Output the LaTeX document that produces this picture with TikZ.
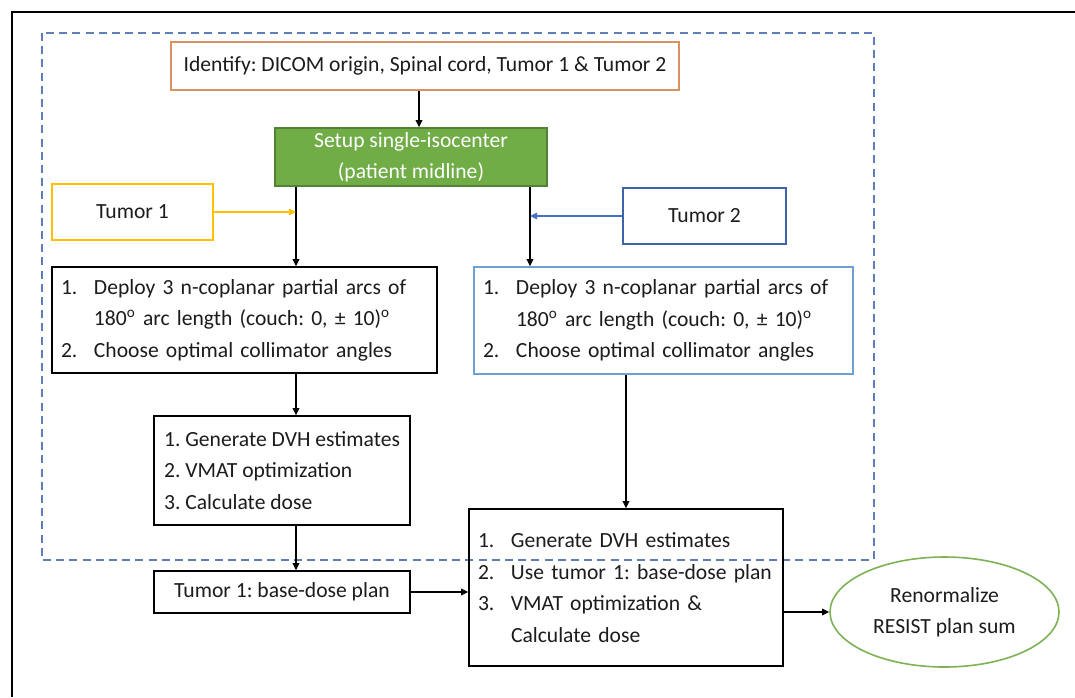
\documentclass[tikz,border=0pt]{standalone}
\usepackage{fontspec}
\setmainfont{Carlito}
\usetikzlibrary{arrows.meta,shapes.geometric}

\definecolor{txt}{RGB}{28,28,28}
\definecolor{idorange}{RGB}{218,145,95}
\definecolor{setupgreen}{RGB}{112,173,71}
\definecolor{setupedge}{RGB}{84,130,53}
\definecolor{tumyellow}{RGB}{255,192,0}
\definecolor{tumblue}{RGB}{60,100,170}
\definecolor{arrowblue}{RGB}{68,114,196}
\definecolor{lightblue}{RGB}{110,160,210}
\definecolor{dashblue}{RGB}{95,125,185}
\definecolor{ovalgreen}{RGB}{125,178,85}

\newcommand{\lnum}[1]{\makebox[16.5pt][l]{#1}}
\newcommand{\lind}{\hspace*{16.5pt}}

\tikzset{
    every node/.style={font=\fontsize{10.8}{15.75}\selectfont\frenchspacing, text=txt},
    box/.style={draw, line width=0.8pt, inner sep=0pt},
    listbox/.style={draw, line width=0.8pt, align=left, inner xsep=4.5pt, inner ysep=0pt},
    >={Triangle[length=3.6pt,width=3.4pt]}
}

\begin{document}
\begin{tikzpicture}[x=0.5pt,y=-0.5pt]
            \useasboundingbox (0,0) rectangle (1075,697);
            \fill[white] (0,0) rectangle (1075,697);
            \draw[line width=1.4pt] (12,697) -- (12,12) -- (1075,12);
            \draw[dashblue, line width=0.75pt, dash pattern=on 4pt off 2.6pt] (42,33) rectangle (874,560);

            \node[box, draw=idorange, minimum width=254pt, minimum height=24pt] (Identify) at (425,66) {Identify: DICOM origin, Spinal cord, Tumor 1 \& Tumor 2};
            \node[box, draw=setupedge, fill=setupgreen, text=white, align=center, minimum width=136pt, minimum height=29pt] (Setup) at (411,157) {Setup single-isocenter\\(patient midline)};
            \node[box, draw=tumyellow, minimum width=80.5pt, minimum height=28pt] (TumorA) at (132.5,212) {Tumor 1};
            \node[box, draw=tumblue, minimum width=81.5pt, minimum height=28pt] (TumorB) at (704.5,216) {Tumor 2};

            \node[listbox, text width=183.5pt, minimum height=53pt] (ArcsA) at (244.5,320) {\lnum{1.}Deploy 3 n-coplanar partial arcs of\\
                \lind 180\textsuperscript{o} arc length (couch: 0, ± 10)\textsuperscript{o}\\
                \lnum{2.}Choose optimal collimator angles};
            \node[listbox, draw=lightblue, text width=180.5pt, minimum height=53.5pt] (ArcsB) at (663.5,320.5) {\lnum{1.}Deploy 3 n-coplanar partial arcs of\\
                \lind 180\textsuperscript{o} arc length (couch: 0, ± 10)\textsuperscript{o}\\
                \lnum{2.}Choose optimal collimator angles};

            \node[listbox, minimum width=128pt, minimum height=54.5pt] (OptA) at (282,470.5) {1. Generate DVH estimates\\
                2. VMAT optimization\\
                3. Calculate dose};
            \node[box, minimum width=128pt, minimum height=21pt] (BaseA) at (282,592) {Tumor 1: base-dose plan};

            \node[listbox, text width=148pt, minimum height=78.5pt] (OptB) at (626,587.5) {\lnum{1.}Generate DVH estimates\\
                \lnum{2.}Use tumor 1: base-dose plan\\
                \lnum{3.}VMAT optimization \&\\
                \lind Calculate dose};
            \node[ellipse, draw=ovalgreen, line width=0.8pt, align=center, inner sep=0pt, minimum width=114.5pt, minimum height=55pt] (Renorm) at (944.5,612) {Renormalize\\RESIST plan sum};

            \coordinate (JoinA) at (296,212);
            \coordinate (JoinB) at (530,216);

            \draw[->, line width=0.6pt] ([xshift=-3pt]Identify.south) -- ([xshift=-3pt]Identify.south |- Setup.north);
            \draw[->, line width=0.6pt] (Setup.south -| JoinA) -- (ArcsA.north -| JoinA);
            \draw[->, line width=0.6pt] (Setup.south -| JoinB) -- (ArcsB.north -| JoinB);
            \draw[->, tumyellow, line width=0.6pt] (TumorA) -- (JoinA);
            \draw[->, arrowblue, line width=0.6pt] (TumorB) -- (JoinB);
            \draw[->, line width=0.6pt] (ArcsA.south -| JoinA) -- (OptA.north -| JoinA);
            \draw[->, line width=0.6pt] (OptA.south -| JoinA) -- (BaseA.north -| JoinA);
            \draw[->, line width=0.6pt] (BaseA) -- (BaseA -| OptB.west);
            \draw[->, line width=0.6pt] (ArcsB.south -| OptB.north) -- (OptB.north);
            \draw[->, line width=0.6pt] (OptB.east |- Renorm.west) -- (Renorm.west);
        \end{tikzpicture}
\end{document}
